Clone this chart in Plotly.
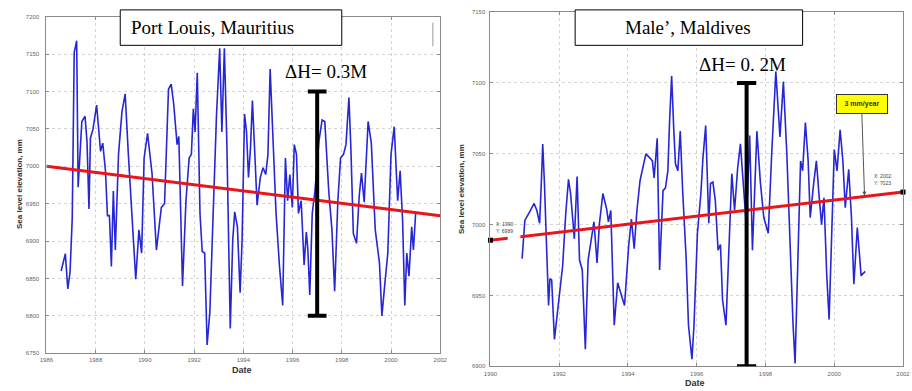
import plotly.graph_objects as go

# ---- Port Louis, Mauritius: monthly sea level (mm) ----
pl_year = [1986.6, 1986.77, 1986.87, 1986.96, 1987.05, 1987.13, 1987.23, 1987.29, 1987.44, 1987.57,
           1987.65, 1987.73, 1987.79, 1987.89, 1988.04, 1988.2, 1988.29, 1988.4, 1988.48, 1988.56,
           1988.64, 1988.72, 1988.8, 1988.93, 1989.07, 1989.2, 1989.33, 1989.47, 1989.63, 1989.76,
           1989.87, 1989.97, 1990.11, 1990.29, 1990.47, 1990.67, 1990.8, 1990.96, 1991.07, 1991.17,
           1991.31, 1991.38, 1991.53, 1991.67, 1991.8, 1991.89, 1991.97, 1992.04, 1992.13, 1992.24,
           1992.33, 1992.43, 1992.53, 1992.64, 1992.8, 1992.91, 1993.04, 1993.13, 1993.23, 1993.33,
           1993.47, 1993.57, 1993.65, 1993.76, 1993.87, 1993.95, 1994.05, 1994.13, 1994.21, 1994.29,
           1994.37, 1994.47, 1994.56, 1994.69, 1994.8, 1994.91, 1995.0, 1995.09, 1995.2, 1995.33,
           1995.47, 1995.6, 1995.71, 1995.8, 1995.89, 1995.99, 1996.07, 1996.16, 1996.24, 1996.35,
           1996.47, 1996.56, 1996.62, 1996.7, 1996.8, 1996.91, 1997.07, 1997.2, 1997.31, 1997.47,
           1997.6, 1997.71, 1997.84, 1997.95, 1998.07, 1998.17, 1998.29, 1998.37, 1998.47, 1998.6,
           1998.71, 1998.8, 1998.91, 1999.07, 1999.2, 1999.36, 1999.53, 1999.63, 1999.73, 1999.87,
           2000.0, 2000.13, 2000.27, 2000.37, 2000.47, 2000.56, 2000.64, 2000.73, 2000.84, 2000.91,
           2001.0]
pl_mm = [6860, 6883, 6836, 6858, 6930, 7152, 7168, 6972, 7060, 7067,
         7033, 6943, 7038, 7049, 7082, 7020, 7031, 6994, 6934, 6934,
         6866, 6967, 6888, 7016, 7073, 7097, 7016, 6937, 6849, 6915,
         6884, 7011, 7044, 6991, 6888, 6945, 6950, 7103, 7110, 7084,
         7029, 7040, 6840, 6954, 7011, 7016, 7077, 7046, 7125, 6937,
         6886, 6884, 6761, 6805, 6980, 7068, 7158, 7046, 7158, 7033,
         6783, 6901, 6939, 6919, 6831, 6901, 7070, 7046, 6985, 7024,
         7088, 7011, 6948, 6985, 6998, 6989, 7016, 7130, 7038, 6937,
         6866, 6814, 7011, 6954, 6989, 6945, 7029, 7016, 6937, 6954,
         6868, 6912, 6890, 6828, 6937, 6967, 7033, 7062, 7060, 6967,
         6915, 6833, 6954, 7011, 7016, 7029, 7092, 7024, 6910, 6897,
         6961, 6991, 6952, 7060, 7031, 6915, 6871, 6800, 6836, 6884,
         7016, 7053, 6954, 6994, 6928, 6814, 6884, 6853, 6919, 6888,
         6937]
pl_trend_year = [1986, 2002]
pl_trend_mm = [7000, 6934]

# ---- Male', Maldives: monthly sea level (mm) ----
ml_year = [1990.92, 1991.0, 1991.14, 1991.27, 1991.35, 1991.43, 1991.48, 1991.52, 1991.57, 1991.62,
           1991.69, 1991.73, 1991.78, 1991.86, 1991.95, 1992.1, 1992.19, 1992.27, 1992.33, 1992.44,
           1992.52, 1992.59, 1992.67, 1992.76, 1992.84, 1992.93, 1993.01, 1993.1, 1993.17, 1993.27,
           1993.38, 1993.43, 1993.5, 1993.6, 1993.7, 1993.81, 1993.9, 1994.02, 1994.1, 1994.18,
           1994.26, 1994.35, 1994.45, 1994.52, 1994.64, 1994.71, 1994.76, 1994.85, 1994.92, 1995.02,
           1995.09, 1995.16, 1995.21, 1995.27, 1995.33, 1995.38, 1995.45, 1995.52, 1995.59, 1995.69,
           1995.76, 1995.86, 1995.92, 1996.02, 1996.12, 1996.18, 1996.26, 1996.35, 1996.4, 1996.47,
           1996.54, 1996.62, 1996.69, 1996.75, 1996.85, 1996.92, 1997.02, 1997.1, 1997.19, 1997.27,
           1997.35, 1997.44, 1997.54, 1997.62, 1997.75, 1997.85, 1997.95, 1998.08, 1998.18, 1998.3,
           1998.42, 1998.52, 1998.62, 1998.72, 1998.8, 1998.86, 1998.93, 1999.02, 1999.08, 1999.16,
           1999.24, 1999.3, 1999.4, 1999.48, 1999.56, 1999.63, 1999.7, 1999.78, 1999.85, 1999.93,
           2000.0, 2000.08, 2000.17, 2000.25, 2000.32, 2000.42, 2000.5, 2000.57, 2000.67, 2000.73,
           2000.78, 2000.9]
ml_mm = [6976, 7003, 7009, 7015, 7010, 7001, 7030, 7057, 7029, 6989,
         6943, 6962, 6961, 6919, 6938, 6971, 7008, 7032, 7022, 6990,
         7034, 6975, 6968, 6912, 6975, 6988, 7002, 6973, 7001, 7022,
         7011, 7002, 7010, 6929, 6959, 6950, 6943, 6985, 7004, 6983,
         7010, 7031, 7043, 7050, 7047, 7045, 7033, 7061, 6968, 7024,
         7026, 7038, 7073, 7105, 7068, 7043, 7038, 7066, 7024, 6977,
         6929, 6905, 6929, 6994, 7022, 7047, 7070, 7001, 7029, 7030,
         7017, 6982, 6986, 6947, 6929, 6975, 7036, 7010, 7040, 7057,
         7033, 7000, 7063, 6982, 7066, 7030, 7005, 6994, 7050, 7108,
         7062, 7101, 7050, 6980, 6930, 6902, 6960, 7045, 7038, 7072,
         7045, 7005, 7029, 7045, 7020, 7000, 7019, 6965, 6933, 7000,
         7053, 7038, 7067, 7045, 7012, 7039, 7005, 6958, 6998, 6980,
         6964, 6967]
ml_trend_year = [1990, 2002]
ml_trend_mm = [6989, 7023]

# Range bars (year, low, high) and their labels
pl_bar = (1997.0, 6800, 7100)
ml_bar = (1997.45, 6900, 7100)
pl_bar_label = "ΔH= 0.3M"
ml_bar_label = "ΔH= 0. 2M"

W, H = 912, 391
BLUE = "#2626d6"
RED = "#e8161a"

fig = go.Figure()

fig.add_trace(go.Scatter(x=pl_year, y=pl_mm, mode="lines", line=dict(color=BLUE, width=1.6),
                         xaxis="x", yaxis="y", showlegend=False))
fig.add_trace(go.Scatter(x=pl_trend_year, y=pl_trend_mm, mode="lines", line=dict(color=RED, width=3),
                         xaxis="x", yaxis="y", showlegend=False))

fig.add_trace(go.Scatter(x=ml_year, y=ml_mm, mode="lines", line=dict(color=BLUE, width=1.6),
                         xaxis="x2", yaxis="y2", showlegend=False))
fig.add_trace(go.Scatter(x=ml_trend_year, y=ml_trend_mm, mode="lines", line=dict(color=RED, width=3),
                         xaxis="x2", yaxis="y2", showlegend=False, cliponaxis=False))
fig.add_trace(go.Scatter(x=ml_trend_year, y=ml_trend_mm, mode="markers",
                         marker=dict(symbol="square", size=5, color="black"),
                         xaxis="x2", yaxis="y2", showlegend=False, cliponaxis=False))

tickfont = dict(family="Liberation Sans, Arial, sans-serif", size=6, color="#666")
axis_common = dict(showline=True, linecolor="#8a8a8a", linewidth=1, mirror="ticks",
                   ticks="inside", ticklen=3, tickcolor="#8a8a8a",
                   showgrid=True, gridcolor="#d4d4d4", griddash="dot", gridwidth=1,
                   zeroline=False, tickfont=tickfont, fixedrange=True)

def px_x(p):
    return p / W

def px_y(p):
    return 1 - p / H

fig.update_layout(
    width=W, height=H, margin=dict(l=0, r=0, t=0, b=0),
    paper_bgcolor="white", plot_bgcolor="white",
    xaxis=dict(domain=[px_x(40), px_x(440)], range=[1986, 2002], dtick=2, tick0=1986,
               anchor="y", ticklabelstandoff=1, **axis_common),
    yaxis=dict(domain=[px_y(355.7), px_y(14)], range=[6750, 7200], dtick=50,
               anchor="x", ticklabelstandoff=5, **axis_common),
    xaxis2=dict(domain=[px_x(491), px_x(910)], range=[1990, 2002], dtick=2, tick0=1990,
                anchor="y2", ticklabelstandoff=1, **axis_common),
    yaxis2=dict(domain=[px_y(369), px_y(9.3)], range=[6900, 7150], dtick=50,
                anchor="x2", ticklabelstandoff=3, **axis_common),
)

shapes = []
# range bars with caps
for (yr, lo, hi), xr, yr_ax, half in [(pl_bar, "x", "y", 0.38), (ml_bar, "x2", "y2", 0.28)]:
    line = dict(color="black", width=4)
    shapes.append(dict(type="line", xref=xr, yref=yr_ax, x0=yr, x1=yr, y0=lo, y1=hi, line=line))
    shapes.append(dict(type="line", xref=xr, yref=yr_ax, x0=yr - half, x1=yr + half, y0=lo, y1=lo, line=line))
    shapes.append(dict(type="line", xref=xr, yref=yr_ax, x0=yr - half, x1=yr + half, y0=hi, y1=hi, line=line))

# title boxes
shapes.append(dict(type="rect", xref="paper", yref="paper",
                   x0=px_x(115), x1=px_x(340), y0=px_y(43), y1=px_y(7),
                   line=dict(color="black", width=1), fillcolor="white"))
shapes.append(dict(type="rect", xref="paper", yref="paper",
                   x0=px_x(577), x1=px_x(808), y0=px_y(43), y1=px_y(7),
                   line=dict(color="black", width=1), fillcolor="white"))
# small white patch behind the first data tip
shapes.append(dict(type="rect", xref="x2", yref="y2", x0=1990.5, x1=1990.87, y0=6984, y1=6998,
                   line=dict(width=0), fillcolor="white"))
# thin edge mark near the upper right of the left panel
shapes.append(dict(type="line", xref="paper", yref="paper", x0=px_x(432.5), x1=px_x(432.5),
                   y0=px_y(44), y1=px_y(20), line=dict(color="#999", width=1)))
fig.update_layout(shapes=shapes)

serif = "Liberation Serif, Times New Roman, serif"
label_font = dict(family="Liberation Sans, Arial, sans-serif", size=8, color="#333")
ann = []
ann.append(dict(text="Port Louis, Mauritius", xref="paper", yref="paper", x=px_x(124), y=px_y(25),
                xanchor="left", yanchor="middle", showarrow=False,
                font=dict(family=serif, size=19, color="black")))
ann.append(dict(text="Male’, Maldives", xref="paper", yref="paper", x=px_x(692), y=px_y(25),
                xanchor="center", yanchor="middle", showarrow=False,
                font=dict(family=serif, size=19, color="black")))
ann.append(dict(text=pl_bar_label, xref="paper", yref="paper", x=px_x(324), y=px_y(70),
                xanchor="center", yanchor="middle", showarrow=False,
                font=dict(family=serif, size=19, color="black")))
ann.append(dict(text=ml_bar_label, xref="paper", yref="paper", x=px_x(747), y=px_y(62),
                xanchor="center", yanchor="middle", showarrow=False,
                font=dict(family=serif, size=19, color="black")))
# axis titles
ann.append(dict(text="<b>Date</b>", xref="paper", yref="paper", x=px_x(239), y=px_y(373),
                xanchor="center", yanchor="middle", showarrow=False, font=dict(label_font, size=9)))
ann.append(dict(text="<b>Date</b>", xref="paper", yref="paper", x=px_x(699), y=px_y(386),
                xanchor="center", yanchor="middle", showarrow=False, font=dict(label_font, size=9)))
ann.append(dict(text="<b>Sea level elevation, mm</b>", xref="paper", yref="paper", x=px_x(12), y=px_y(184),
                xanchor="center", yanchor="middle", textangle=-90, showarrow=False, font=label_font))
ann.append(dict(text="<b>Sea level elevation, mm</b>", xref="paper", yref="paper", x=px_x(461), y=px_y(189),
                xanchor="center", yanchor="middle", textangle=-90, showarrow=False, font=label_font))
# data tips on the trend endpoints
tip_font = dict(family="Liberation Sans, Arial, sans-serif", size=5, color="#444")
ann.append(dict(text=f"X: {ml_trend_year[0]}<br>Y: {ml_trend_mm[0]}", xref="x2", yref="y2",
                x=1990.1, y=6998, xanchor="left", yanchor="middle", showarrow=False,
                align="left", font=tip_font))
ann.append(dict(text=f"X: {ml_trend_year[1]}<br>Y: {ml_trend_mm[1]}", xref="x2", yref="y2",
                x=2001.1, y=7032, xanchor="left", yanchor="middle", showarrow=False,
                align="left", font=tip_font))
# slope callout
ann.append(dict(text="<b>3 mm/year</b>", xref="x2", yref="y2", x=2000.88, y=7020.5,
                ax=-3, ay=-92, showarrow=True, arrowhead=2, arrowsize=0.8, arrowwidth=1,
                arrowcolor="#555", bgcolor="#ffff00", bordercolor="#333", borderwidth=1,
                borderpad=5, width=40,
                font=dict(family="Liberation Sans, Arial, sans-serif", size=7, color="#333")))
fig.update_layout(annotations=ann)

fig.write_html("out.html")
